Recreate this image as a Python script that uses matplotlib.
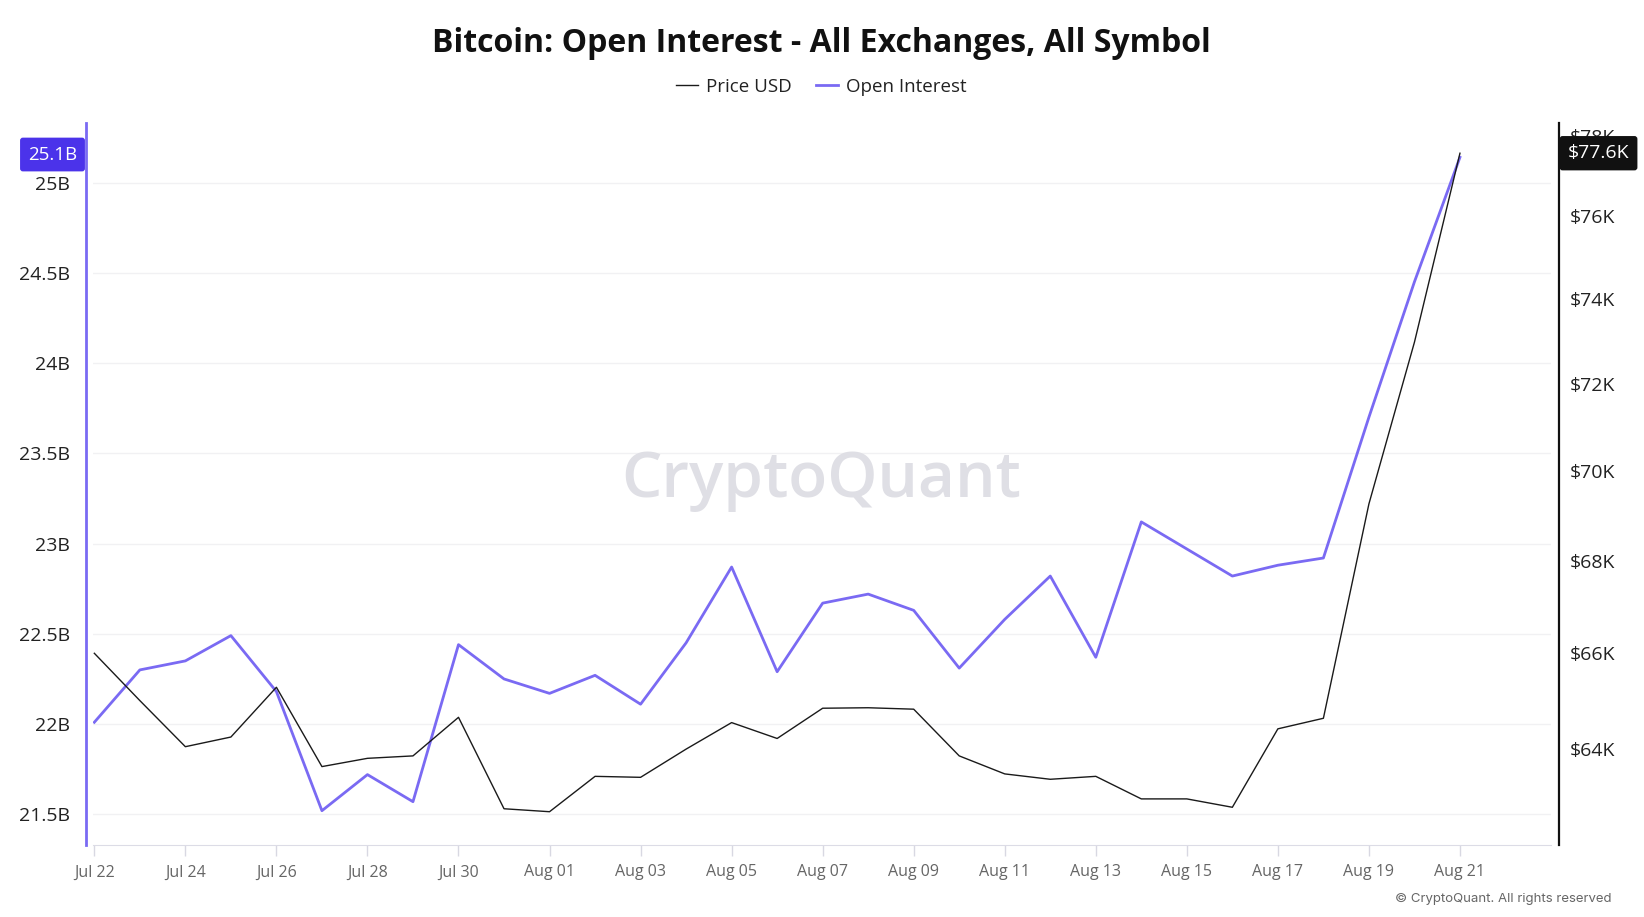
import numpy as np
import pandas as pd
import matplotlib
matplotlib.use("Agg")
import matplotlib.pyplot as plt
import matplotlib.dates as mdates
import matplotlib.transforms as mtransforms
from matplotlib.ticker import FixedLocator, FuncFormatter, NullLocator
from matplotlib.lines import Line2D

# ---------------- data ----------------
dates = pd.date_range("2024-07-22", "2024-08-21", freq="D")
open_interest_b = [22.01, 22.30, 22.35, 22.49, 22.18, 21.52, 21.72, 21.57, 22.44, 22.25,
                   22.17, 22.27, 22.11, 22.45, 22.87, 22.29, 22.67, 22.72, 22.63, 22.31,
                   22.58, 22.82, 22.37, 23.12, 22.97, 22.82, 22.88, 22.92, 23.70, 24.45, 25.14]
price_k = [66.0, 65.0, 64.04, 64.24, 65.28, 63.63, 63.80, 63.85, 64.65, 62.77,
           62.71, 63.43, 63.41, 63.99, 64.54, 64.21, 64.84, 64.85, 64.82, 63.85,
           63.48, 63.37, 63.43, 62.97, 62.97, 62.80, 64.41, 64.63, 69.26, 72.97, 77.56]
left_ticks = [21.5, 22, 22.5, 23, 23.5, 24, 24.5, 25]
left_tick_labels = ["21.5B", "22B", "22.5B", "23B", "23.5B", "24B", "24.5B", "25B"]
right_ticks_k = [64, 66, 68, 70, 72, 74, 76, 78]
x_tick_dates = pd.date_range("2024-07-22", "2024-08-21", freq="2D")
title = "Bitcoin: Open Interest - All Exchanges, All Symbol"
oi_last_label = "25.1B"
price_last_label = "$77.6K"

# ---------------- style ----------------
FONT = ["Open Sans", "DejaVu Sans"]
plt.rcParams["font.family"] = FONT
OI_COLOR = "#7a6af3"
PRICE_COLOR = "#1a1a1a"

W, H = 1644, 917
fig = plt.figure(figsize=(W / 100, H / 100), dpi=100)
fig.patch.set_facecolor("white")

x0, x1, ytop, ybot = 93, 1551, 123, 845
ax = fig.add_axes([x0 / W, (H - ybot) / H, (x1 - x0) / W, (ybot - ytop) / H])
ax2 = ax.twinx()

price = np.array(price_k) * 1000

ax.plot(dates, open_interest_b, color=OI_COLOR, lw=2.0, zorder=3)
ax2.plot(dates, price, color=PRICE_COLOR, lw=1.0, zorder=4)

# x axis
ax.set_xlim(dates[0] - pd.Timedelta(hours=0.7), dates[0] + pd.Timedelta(days=32.0))
ax.xaxis.set_major_locator(FixedLocator(mdates.date2num(x_tick_dates)))
ax.xaxis.set_major_formatter(mdates.DateFormatter("%b %d"))
ax.tick_params(axis="x", colors="#d8d8e2", length=8, width=1, labelsize=11.5,
               labelcolor="#666666", pad=6)

# left axis
ax.set_ylim(21.33, 25.33)
ax.yaxis.set_major_locator(FixedLocator(left_ticks))
ax.set_yticklabels(left_tick_labels)
ax.tick_params(axis="y", length=0, labelsize=14, labelcolor="#222222", pad=11.5)
ax.grid(axis="y", color="#f1f1f3", lw=1)
ax.set_axisbelow(True)

# right axis (log)
ax2.set_yscale("log")
ax2.set_ylim(62040, 78320)
ax2.yaxis.set_major_locator(FixedLocator([v * 1000 for v in right_ticks_k]))
ax2.yaxis.set_minor_locator(NullLocator())
ax2.yaxis.set_major_formatter(FuncFormatter(lambda v, p: f"${v/1000:.0f}K"))
ax2.tick_params(axis="y", length=0, labelsize=14, labelcolor="#222222", pad=8)

for a in (ax, ax2):
    a.spines["top"].set_visible(False)
ax.spines["right"].set_visible(False)
ax2.spines["left"].set_visible(False)
ax2.spines["bottom"].set_visible(False)
ax.spines["bottom"].set_color("#dcdce6")
ax.spines["left"].set_color(OI_COLOR)
ax.spines["left"].set_linewidth(2)
ax.spines["left"].set_position(("outward", 5))
ax2.spines["right"].set_color("#111111")
ax2.spines["right"].set_linewidth(1.6)
ax2.spines["right"].set_position(("outward", 5.8))

# watermark
fig.text(821 / W, 1 - 481 / H, "CryptoQuant", ha="center", va="center",
         fontsize=46, color="#dfdfe5", fontweight=600, zorder=0)

# last value labels
trL = mtransforms.blended_transform_factory(fig.transFigure, ax.transData)
trL = trL + mtransforms.ScaledTranslation(0, 2 / 72, fig.dpi_scale_trans)
ax.text(52.5 / W, open_interest_b[-1], oi_last_label, transform=trL, ha="center",
        va="center", fontsize=13.5, color="white", clip_on=False, zorder=10,
        bbox=dict(boxstyle="round,pad=0.42,rounding_size=0.15", fc="#4b33ea", ec="none"))
trR = mtransforms.blended_transform_factory(fig.transFigure, ax2.transData)
ax2.text(1598.5 / W, price[-1], price_last_label, transform=trR, ha="center",
         va="center", fontsize=14, color="white", clip_on=False, zorder=10,
         bbox=dict(boxstyle="round,pad=0.42,rounding_size=0.15", fc="#111111", ec="none"))

# title & legend
fig.text(821 / W, 1 - 44 / H, title, ha="center", va="center", fontsize=23,
         fontweight="bold", color="#111111")
handles = [Line2D([], [], color=PRICE_COLOR, lw=1.0), Line2D([], [], color=OI_COLOR, lw=2.0)]
fig.legend(handles, ["Price USD", "Open Interest"], loc="center", bbox_to_anchor=(821 / W, 1 - 87 / H),
           ncol=2, frameon=False, fontsize=13.5, handlelength=1.2, handletextpad=0.4,
           columnspacing=1.3, labelcolor="#222222")

fig.text(1611 / W, 1 - 899 / H, "© CryptoQuant. All rights reserved", ha="right", va="center",
         fontsize=9.5, color="#666666", family=["Inter", "DejaVu Sans"])

fig.savefig("out.png", dpi=100, facecolor="white")
